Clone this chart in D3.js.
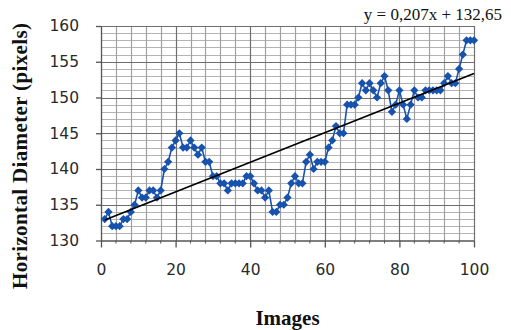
<!DOCTYPE html>
<html>
<head>
<meta charset="utf-8">
<script src="https://cdn.jsdelivr.net/npm/d3@7/dist/d3.min.js"></script>
<style>
  html, body { margin: 0; padding: 0; background: #fff; }
  svg { display: block; }
</style>
</head>
<body>
<svg id="chart" width="511" height="330"></svg>
<script>
// Horizontal diameter measured on each image (pixels), images 1..100
const images = d3.range(1, 101);
const diameters = [
  133, 134, 132, 132, 132, 133, 133, 134, 135, 137,
  136, 136, 137, 137, 136, 137, 140, 141, 143, 144,
  145, 143, 143, 144, 143, 142, 143, 141, 141, 139,
  139, 138, 138, 137, 138, 138, 138, 138, 139, 139,
  138, 137, 137, 136, 137, 134, 134, 135, 135, 136,
  138, 139, 138, 138, 141, 142, 140, 141, 141, 141,
  143, 144, 146, 145, 145, 149, 149, 149, 150, 152,
  151, 152, 151, 150, 152, 153, 151, 148, 149, 151,
  149, 147, 149, 151, 150, 150, 151, 151, 151, 151,
  151, 152, 153, 152, 152, 154, 156, 158, 158, 158
];
// Linear trend fitted to the series
const trendSlope = 0.207;
const trendIntercept = 132.65;
const trendLabel = "y = 0,207x + 132,65";

const xTicks = [0, 20, 40, 60, 80, 100];
const yTicks = [130, 135, 140, 145, 150, 155, 160];
const xDomain = [0, 100];
const yDomain = [130, 160];

const svg = d3.select("#chart");
const plotLeft = 101, plotRight = 474, plotTop = 26, plotBottom = 240.5;

const x = d3.scaleLinear().domain(xDomain).range([plotLeft, plotRight]);
const y = d3.scaleLinear().domain(yDomain).range([plotBottom, plotTop]);

const grid = svg.append("g");
// minor horizontal grid: every 1 pixel unit
grid.selectAll("line.hmin")
  .data(d3.range(yDomain[0] + 1, yDomain[1]).filter(v => v % 5 !== 0))
  .join("line")
  .attr("x1", plotLeft).attr("x2", plotRight)
  .attr("y1", d => Math.round(y(d)) + 0.5).attr("y2", d => Math.round(y(d)) + 0.5)
  .attr("stroke", "#b4b4b4").attr("stroke-width", 1);
// minor vertical grid: every 4 images
grid.selectAll("line.vmin")
  .data(d3.range(4, 100, 4).filter(v => v % 20 !== 0))
  .join("line")
  .attr("x1", d => Math.round(x(d)) + 0.5).attr("x2", d => Math.round(x(d)) + 0.5)
  .attr("y1", plotTop).attr("y2", plotBottom)
  .attr("stroke", "#a0a0a0").attr("stroke-width", 1.2);
// major grid
grid.selectAll("line.hmaj")
  .data(yTicks.filter(v => v !== yDomain[0]))
  .join("line")
  .attr("x1", plotLeft).attr("x2", plotRight)
  .attr("y1", d => Math.round(y(d)) + 0.5).attr("y2", d => Math.round(y(d)) + 0.5)
  .attr("stroke", "#6e6e6e").attr("stroke-width", 1.2);
grid.selectAll("line.vmaj")
  .data(xTicks.filter(v => v !== xDomain[0]))
  .join("line")
  .attr("x1", d => Math.round(x(d)) + 0.5).attr("x2", d => Math.round(x(d)) + 0.5)
  .attr("y1", plotTop).attr("y2", plotBottom)
  .attr("stroke", "#6e6e6e").attr("stroke-width", 1.2);

const tickFont = "'DejaVu Sans', Verdana, sans-serif";

// x axis
const xAxis = svg.append("g")
  .attr("transform", `translate(0,${plotBottom})`)
  .call(d3.axisBottom(x).tickValues(xTicks).tickSize(7).tickPadding(16).tickSizeOuter(0));
xAxis.select(".domain").attr("stroke", "#555").attr("stroke-width", 1.3);
xAxis.selectAll(".tick line").attr("stroke", "#555").attr("stroke-width", 1.3);
xAxis.selectAll(".tick text")
  .attr("font-family", tickFont).attr("font-size", 15.5).attr("fill", "#2a2a2a");
// minor x ticks
xAxis.append("g").selectAll("line")
  .data(d3.range(4, 100, 4).filter(v => v % 20 !== 0))
  .join("line")
  .attr("x1", d => x(d)).attr("x2", d => x(d))
  .attr("y1", 0).attr("y2", 3)
  .attr("stroke", "#555");

// y axis
const yAxis = svg.append("g")
  .attr("transform", `translate(${plotLeft},0)`)
  .call(d3.axisLeft(y).tickValues(yTicks).tickSize(5).tickPadding(17).tickSizeOuter(0));
yAxis.select(".domain").attr("stroke", "#555").attr("stroke-width", 1.3);
yAxis.selectAll(".tick line").attr("stroke", "#555").attr("stroke-width", 1.3);
yAxis.selectAll(".tick text")
  .attr("font-family", tickFont).attr("font-size", 15.5).attr("fill", "#2a2a2a");

// data series
const blue = "#1752ad";
const pts = images.map((d, i) => ({ img: d, v: diameters[i] }));
svg.append("path")
  .datum(pts)
  .attr("fill", "none")
  .attr("stroke", blue)
  .attr("stroke-width", 1.6)
  .attr("d", d3.line().x(d => x(d.img)).y(d => y(d.v)));

const diamond = d3.symbol().type(d3.symbolSquare).size(34);
svg.append("g").selectAll("path")
  .data(pts)
  .join("path")
  .attr("d", diamond)
  .attr("transform", d => `translate(${x(d.img)},${y(d.v)}) rotate(45)`)
  .attr("fill", blue);

// trend line
const tx = d3.extent(images);
svg.append("line")
  .attr("x1", x(tx[0])).attr("y1", y(trendSlope * tx[0] + trendIntercept))
  .attr("x2", x(tx[1])).attr("y2", y(trendSlope * tx[1] + trendIntercept))
  .attr("stroke", "#000").attr("stroke-width", 1.7);

svg.append("text")
  .attr("x", 502).attr("y", 20)
  .attr("text-anchor", "end")
  .attr("font-family", "'Liberation Serif', 'Times New Roman', serif")
  .attr("font-size", 17)
  .attr("fill", "#111")
  .text(trendLabel);

// axis titles
const titleFont = "'Liberation Serif', 'Times New Roman', serif";
svg.append("text")
  .attr("x", (plotLeft + plotRight) / 2).attr("y", 325)
  .attr("text-anchor", "middle")
  .attr("font-family", titleFont).attr("font-weight", "bold")
  .attr("font-size", 21).attr("fill", "#111")
  .text("Images");
svg.append("text")
  .attr("transform", `translate(27,${156}) rotate(-90)`)
  .attr("text-anchor", "middle")
  .attr("font-family", titleFont).attr("font-weight", "bold")
  .attr("font-size", 21).attr("fill", "#111")
  .attr("textLength", 266).attr("lengthAdjust", "spacing")
  .text("Horizontal Diameter (pixels)");
</script>
</body>
</html>
